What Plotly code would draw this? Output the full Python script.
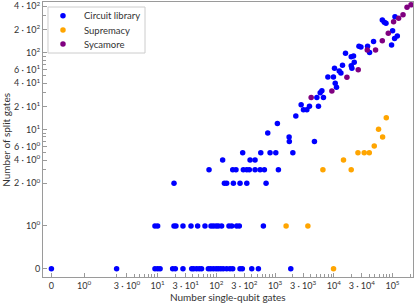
import numpy as np
import plotly.graph_objects as go

# ---------------- data ----------------
lib_x = [0, 2, 9, 10, 11, 18, 20, 27, 38, 41, 46, 51, 56, 73, 80, 89, 99, 108, 119, 131, 150, 171, 190, 253, 277, 401, 520, 1853,
         9, 10, 19, 20.5, 27, 37, 48, 64, 81, 89, 99, 108, 123, 164, 183, 222, 246, 632,
         19, 137, 150, 195, 253, 330, 703,
         75, 190, 216, 288, 330, 365, 456, 556, 658, 1140,
         128, 375, 456,
         281, 571, 822, 1030, 2009,
         751, 1096, 1735, 1750, 4690, 2259, 2782, 3046, 3480, 3855, 5486, 5155, 6676, 5870, 6276,
         7943, 9886, 10590, 11140, 10300, 12390, 13240, 14090, 15850, 19820, 21730, 22340, 19820, 20380,
         26850, 29040, 37670, 40740, 47640, 67140, 72610, 77620, 100500, 108700, 121000, 96600, 110400]
lib_y = [0] * 28 + [1] * 18 + [2] * 7 + [3] * 10 + [4] * 3 + [5] * 5 + \
        [9, 12, 8, 7, 7, 15, 21, 18, 18, 20, 20, 26, 26, 30, 32,
         48, 48, 40, 35.5, 62.5, 57.7, 54.3, 68.4, 98, 88.5, 90.4, 74.8, 67.6, 62.5,
         121, 118, 121, 100, 139, 265, 248, 240, 193, 153, 164, 126, 293]

sup_x = [9910, 1542, 3622, 6531, 19820, 14660, 25820, 33040, 40270, 48980, 67920, 57940, 78520]
sup_y = [0, 1, 1, 3, 3, 4, 5, 5, 5, 6.1, 8, 10.1, 14.2]

syc_x = [4121, 9290, 16750, 26120, 37240, 51520, 67140, 84920, 104500, 127300, 151400, 177000, 207000]
syc_y = [26, 31.7, 47.8, 60, 108, 108, 143, 178, 252, 279, 311, 388, 419]

series_names = ["Circuit library", "Supremacy", "Sycamore"]
series_colors = ["#0000ff", "#ffa500", "#800080"]

x_tick_vals = [0, 1, 3, 10, 30, 100, 300, 1000, 3000, 10000, 30000, 100000]
x_tick_text = ["0", "10<sup>0</sup>", "3 · 10<sup>0</sup>", "10<sup>1</sup>", "3 · 10<sup>1</sup>",
               "10<sup>2</sup>", "3 · 10<sup>2</sup>", "10<sup>3</sup>", "3 · 10<sup>3</sup>",
               "10<sup>4</sup>", "3 · 10<sup>4</sup>", "10<sup>5</sup>"]
y_tick_vals = [0, 1, 2, 4, 6, 10, 20, 40, 60, 100, 200, 400]
y_tick_text = ["0", "10<sup>0</sup>", "2 · 10<sup>0</sup>", "4 · 10<sup>0</sup>", "6 · 10<sup>0</sup>",
               "10<sup>1</sup>", "2 · 10<sup>1</sup>", "4 · 10<sup>1</sup>", "6 · 10<sup>1</sup>",
               "10<sup>2</sup>", "2 · 10<sup>2</sup>", "4 · 10<sup>2</sup>"]

# ---------------- symmetric-log scale (linthresh 2, linscale 1) ----------------
LINTHRESH = 2.0
LINSCALE_ADJ = 1.0 / (1.0 - 1.0 / 10.0)


def symlog(v):
    v = np.asarray(v, dtype=float)
    a = np.abs(v)
    out = np.where(a <= LINTHRESH, a / LINTHRESH * LINSCALE_ADJ,
                   LINSCALE_ADJ + np.log10(np.maximum(a, LINTHRESH) / LINTHRESH))
    return np.sign(v) * out


def minor_vals(maxv):
    vals = []
    for d in range(0, 7):
        for m in range(1, 10):
            v = m * 10 ** d
            if 2 <= v <= maxv:
                vals.append(v)
    return vals


x_minor = [v for v in minor_vals(3e5) if v not in x_tick_vals]
y_minor = [v for v in minor_vals(500) if v not in y_tick_vals]

FONT = "Lato"
TXT = "#333333"
AX = "#9a9a9a"

fig = go.Figure()
for nm, col, xs, ys in zip(series_names, series_colors, [lib_x, sup_x, syc_x], [lib_y, sup_y, syc_y]):
    fig.add_trace(go.Scatter(x=symlog(xs), y=symlog(ys), mode="markers", name=nm,
                             marker=dict(color=col, size=5.5), showlegend=False))

axis_common = dict(showgrid=False, zeroline=False, showline=True, linecolor=AX, linewidth=1,
                   mirror=True, ticks="inside", ticklen=4, tickcolor=AX, tickwidth=1,
                   automargin=False, ticklabeloverflow="allow",
                   tickfont=dict(family=FONT, size=9, color=TXT))

fig.update_xaxes(range=[-0.143, 6.16], tickmode="array", tickvals=symlog(x_tick_vals).tolist(),
                 ticktext=x_tick_text,
                 minor=dict(tickmode="array", tickvals=symlog(x_minor).tolist(), ticks="inside",
                            ticklen=3, tickcolor=AX, tickwidth=1, showgrid=False),
                 **axis_common)
fig.update_yaxes(range=[-0.108, 3.468], tickmode="array", tickvals=symlog(y_tick_vals).tolist(),
                 ticktext=y_tick_text,
                 minor=dict(tickmode="array", tickvals=symlog(y_minor).tolist(), ticks="inside",
                            ticklen=3, tickcolor=AX, tickwidth=1, showgrid=False),
                 **axis_common)

# axis titles
annotations = [
    dict(text="Number single-qubit gates", xref="paper", yref="paper", x=0.5, y=-0.071,
         xanchor="center", yanchor="middle", showarrow=False, font=dict(family=FONT, size=10, color=TXT)),
    dict(text="Number of split gates", xref="paper", yref="paper", x=-0.102, y=0.5,
         xanchor="center", yanchor="middle", textangle=-90, showarrow=False,
         font=dict(family=FONT, size=10, color=TXT)),
]

# legend (drawn in paper space)
shapes = [dict(type="rect", xref="paper", yref="paper", x0=0.0135, x1=0.2757, y0=0.8145, y1=0.9818,
               line=dict(color="#cccccc", width=1), fillcolor="white", layer="above")]
row_y = [0.950, 0.898, 0.847]
for nm, col, ry in zip(series_names, series_colors, row_y):
    shapes.append(dict(type="circle", xref="paper", yref="paper", xsizemode="pixel", ysizemode="pixel",
                       xanchor=0.054, yanchor=ry, x0=-2.75, x1=2.75, y0=-2.75, y1=2.75,
                       fillcolor=col, line=dict(width=0), layer="above"))
    annotations.append(dict(text=nm, xref="paper", yref="paper", x=0.1054, y=ry, xanchor="left",
                            yanchor="middle", showarrow=False,
                            font=dict(family=FONT, size=9.5, color=TXT)))

fig.update_layout(
    width=415, height=304,
    margin=dict(l=43, r=2, t=2, b=27),
    paper_bgcolor="white", plot_bgcolor="white",
    showlegend=False,
    shapes=shapes,
    annotations=annotations,
)

fig.write_html("out.html", config={"displayModeBar": False},
               post_script="document.body.style.margin='0';document.body.style.padding='0';")
